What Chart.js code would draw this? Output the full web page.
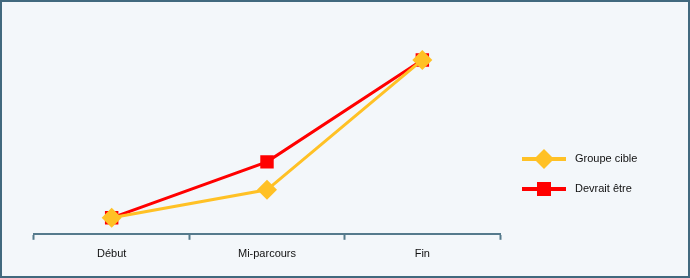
<!DOCTYPE html>
<html>
<head>
<meta charset="utf-8">
<script src="https://cdn.jsdelivr.net/npm/chart.js@4"></script>
<style>
  html, body { margin: 0; padding: 0; background: #fff; }
  #wrap {
    width: 690px; height: 278px; box-sizing: border-box;
    border: 2px solid #41697e; background: #f3f7fa;
  }
  canvas { display: block; }
</style>
</head>
<body>
<div id="wrap"><canvas id="chart" width="686" height="274"></canvas></div>
<script>
/* ---- data ---- */
const categories = ["Début", "Mi-parcours", "Fin"];
const seriesNames = ["Groupe cible", "Devrait être"];
const groupeCible = [8, 22, 87];
const devraitEtre = [8, 36, 87];

const YELLOW = "#ffc125";
const RED = "#ff0000";
const AXIS = "#557a8c";
const FONT = "'Liberation Sans', Arial, sans-serif";

/* ---- legend drawn like a line + marker ---- */
const sideLegend = {
  id: "sideLegend",
  afterDraw(chart) {
    const ctx = chart.ctx;
    const x0 = 520, x1 = 564, tx = 573;
    chart.data.datasets.forEach((ds, i) => {
      const y = 157 + i * 30;
      ctx.save();
      ctx.strokeStyle = ds.borderColor;
      ctx.lineWidth = 4;
      ctx.beginPath();
      ctx.moveTo(x0, y);
      ctx.lineTo(x1, y);
      ctx.stroke();
      ctx.fillStyle = ds.borderColor;
      const cx = (x0 + x1) / 2;
      ctx.beginPath();
      if (ds.pointStyle === "rectRot") {
        const r = 10;
        ctx.moveTo(cx, y - r);
        ctx.lineTo(cx + r, y);
        ctx.lineTo(cx, y + r);
        ctx.lineTo(cx - r, y);
        ctx.closePath();
      } else {
        ctx.rect(cx - 7, y - 7, 14, 14);
      }
      ctx.fill();
      ctx.fillStyle = "#111";
      ctx.font = "11px " + FONT;
      ctx.textBaseline = "middle";
      ctx.fillText(ds.label, tx, y);
      ctx.restore();
    });
  }
};

new Chart(document.getElementById("chart"), {
  type: "line",
  data: {
    labels: categories,
    datasets: [
      {
        label: seriesNames[0],
        data: groupeCible,
        borderColor: YELLOW,
        backgroundColor: YELLOW,
        borderWidth: 3,
        pointStyle: "rectRot",
        pointRadius: 10,
        pointBorderWidth: 0,
        tension: 0
      },
      {
        label: seriesNames[1],
        data: devraitEtre,
        borderColor: RED,
        backgroundColor: RED,
        borderWidth: 3,
        pointStyle: "rect",
        pointRadius: 9.5,
        pointBorderWidth: 0,
        tension: 0
      }
    ]
  },
  options: {
    responsive: false,
    animation: false,
    layout: { padding: { left: 32, right: 188, top: 32, bottom: 7 } },
    plugins: { legend: { display: false }, tooltip: { enabled: false } },
    scales: {
      x: {
        offset: true,
        border: { display: true, color: AXIS, width: 2 },
        grid: {
          display: true, offset: true, drawOnChartArea: false,
          drawTicks: true, tickLength: 6, tickWidth: 2, tickColor: AXIS
        },
        ticks: { color: "#111", padding: 8, font: { family: FONT, size: 11 } }
      },
      y: { display: false, min: 0, max: 100 }
    }
  },
  plugins: [sideLegend]
});
</script>
</body>
</html>
